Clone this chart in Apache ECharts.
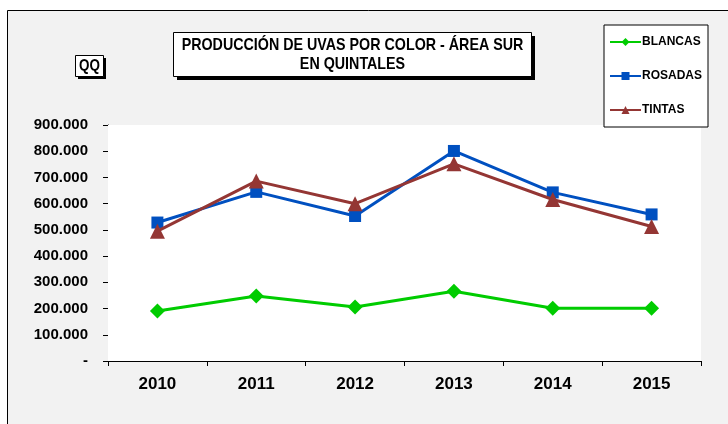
<!DOCTYPE html>
<html>
<head>
<meta charset="utf-8">
<title>Producción de uvas por color</title>
<style>
  html, body { margin: 0; padding: 0; background: #ffffff; }
  #chart { width: 728px; height: 424px; }
</style>
<script src="https://cdn.jsdelivr.net/npm/echarts@6/dist/echarts.min.js"></script>
</head>
<body>
<div id="chart"></div>
<script>
  // datos (quintales)
  const years = ["2010", "2011", "2012", "2013", "2014", "2015"]
  const blancas = [191000, 248000, 206000, 266000, 201000, 201000]
  const rosadas = [528000, 645000, 553000, 801000, 643000, 559000]
  const tintas = [495000, 686000, 600000, 752000, 616000, 513000]

  const FONT = "'Liberation Sans', Arial, sans-serif"

  const fmtThousands = (value) => {
    if (value === 0) return "-"
    return String(value).replace(/\B(?=(\d{3})+(?!\d))/g, ".")
  }

  const chart = echarts.init(document.getElementById("chart"))

  chart.setOption({
    backgroundColor: "#ffffff",
    animation: false,
    textStyle: { fontFamily: FONT },
    grid: {
      left: 108,
      right: 27,
      top: 125,
      bottom: 63,
      show: true,
      backgroundColor: "#ffffff",
      borderWidth: 0,
      z: 1
    },
    legend: {
      orient: "vertical",
      left: 604,
      top: 25,
      width: 100,
      height: 108,
      padding: [11, 6, 11, 5],
      itemGap: 22,
      itemWidth: 31,
      itemHeight: 10,
      backgroundColor: "#ffffff",
      borderColor: "#000000",
      borderWidth: 1,
      textStyle: {
        fontFamily: FONT,
        fontWeight: "bold",
        fontSize: 12,
        color: "#000000",
        padding: [0, 0, 0, -4]
      },
      data: ["BLANCAS", "ROSADAS", "TINTAS"]
    },
    xAxis: {
      type: "category",
      data: years,
      boundaryGap: true,
      axisLine: { lineStyle: { color: "#000000", width: 1 } },
      axisTick: { show: true, length: 5, lineStyle: { color: "#000000" } },
      axisLabel: {
        margin: 15,
        fontFamily: FONT,
        fontWeight: "bold",
        fontSize: 17,
        color: "#000000"
      }
    },
    yAxis: {
      type: "value",
      min: 0,
      max: 900000,
      interval: 100000,
      axisLine: { show: true, lineStyle: { color: "#000000", width: 1 } },
      axisTick: { show: true, length: 5, lineStyle: { color: "#000000" } },
      splitLine: { show: true, lineStyle: { color: "#2a2a2a", width: 1 } },
      axisLabel: {
        margin: 20,
        fontFamily: FONT,
        fontWeight: "bold",
        fontSize: 15,
        color: "#000000",
        formatter: fmtThousands
      }
    },
    series: [
      {
        name: "BLANCAS",
        type: "line",
        data: blancas,
        symbol: "diamond",
        symbolSize: 15,
        itemStyle: { color: "#00cc00" },
        lineStyle: { color: "#00cc00", width: 3 },
        z: 4
      },
      {
        name: "ROSADAS",
        type: "line",
        data: rosadas,
        symbol: "rect",
        symbolSize: 12,
        itemStyle: { color: "#0050c0" },
        lineStyle: { color: "#0050c0", width: 3 },
        z: 3
      },
      {
        name: "TINTAS",
        type: "line",
        data: tintas,
        symbol: "triangle",
        symbolSize: 15,
        itemStyle: { color: "#943634" },
        lineStyle: { color: "#943634", width: 3 },
        z: 5
      }
    ],
    graphic: [
      // marco exterior gris
      {
        type: "rect",
        z: -10,
        shape: { x: 7.5, y: 10.5, width: 730, height: 420 },
        style: { fill: "#f2f2f2", stroke: "#000000", lineWidth: 1 }
      },
      // caja del titulo con sombra
      {
        type: "rect",
        z: 10,
        shape: { x: 177, y: 36, width: 358, height: 44 },
        style: { fill: "#000000" }
      },
      {
        type: "rect",
        z: 11,
        shape: { x: 173.5, y: 32.5, width: 358, height: 44 },
        style: { fill: "#ffffff", stroke: "#000000", lineWidth: 1 }
      },
      {
        type: "text",
        z: 12,
        x: 352.5,
        y: 54.5,
        scaleX: 0.84,
        style: {
          text: "PRODUCCIÓN DE UVAS POR COLOR - ÁREA SUR\nEN QUINTALES",
          align: "center",
          verticalAlign: "middle",
          fontFamily: FONT,
          fontWeight: "bold",
          fontSize: 17,
          lineHeight: 19,
          fill: "#000000"
        }
      },
      // caja QQ
      {
        type: "rect",
        z: 10,
        shape: { x: 78, y: 58, width: 28, height: 21 },
        style: { fill: "#000000" }
      },
      {
        type: "rect",
        z: 11,
        shape: { x: 75.5, y: 55.5, width: 28, height: 21 },
        style: { fill: "#ffffff", stroke: "#000000", lineWidth: 1 }
      },
      {
        type: "text",
        z: 12,
        x: 89.5,
        y: 66.5,
        scaleX: 0.84,
        style: {
          text: "QQ",
          align: "center",
          verticalAlign: "middle",
          fontFamily: FONT,
          fontWeight: "bold",
          fontSize: 16,
          fill: "#000000"
        }
      }
    ]
  })

  window.addEventListener("resize", () => {
    chart.resize()
  })
</script>
</body>
</html>
